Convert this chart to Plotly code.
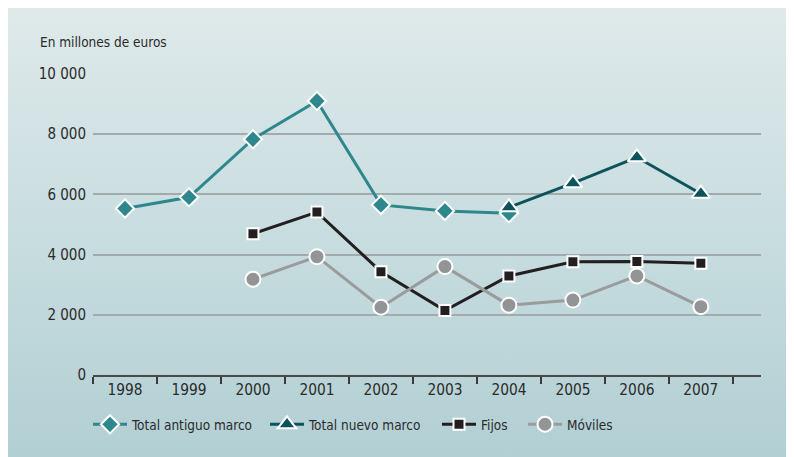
import base64
import plotly.graph_objects as go

years = ["1998", "1999", "2000", "2001", "2002", "2003", "2004", "2005", "2006", "2007"]
antiguo = [5530, 5900, 7830, 9100, 5650, 5450, 5370, None, None, None]
nuevo = [None, None, None, None, None, None, 5570, 6370, 7230, 6020]
fijos = [None, None, 4690, 5410, 3430, 2140, 3290, 3760, 3770, 3710]
moviles = [None, None, 3180, 3930, 2250, 3600, 2320, 2490, 3290, 2270]
yticks = [0, 2000, 4000, 6000, 8000, 10000]
ytick_labels = ["0", "2 000", "4 000", "6 000", "8 000", "10 000"]

FONT = "DejaVu Sans Condensed, sans-serif"
TXT = "#2b2b2b"

svg = ('<svg xmlns="http://www.w3.org/2000/svg" width="100" height="100" preserveAspectRatio="none">'
       '<defs><linearGradient id="g" x1="0" y1="0" x2="0" y2="1">'
       '<stop offset="0" stop-color="#dfe9ea"/><stop offset="0.5" stop-color="#c8dde0"/>'
       '<stop offset="1" stop-color="#b2cfd3"/></linearGradient></defs>'
       '<rect width="100" height="100" fill="url(#g)"/></svg>')
bg = "data:image/svg+xml;base64," + base64.b64encode(svg.encode()).decode()

# page has an 8px body margin; figure coordinates below are page - 8
OX, OY = 8, 8
W, H = 794 - OX, 457 - OY
L, R, T, B = 93 - OX, 761 - OX, 73 - OY, 375 - OY
pw, ph = R - L, B - T

fig = go.Figure()

def add(y, name, color, symbol, size, legend, lc=None):
    fig.add_trace(go.Scatter(
        x=years, y=y, name=name, mode="lines+markers",
        line=dict(color=lc or color, width=3),
        marker=dict(symbol=symbol, size=size, color=color,
                    line=dict(color="white", width=2)),
        connectgaps=False, legend=legend,
    ))

add(antiguo, "Total antiguo marco", "#2e878c", "diamond", 14, "legend")
add(nuevo, "Total nuevo marco", "#0d545a", "triangle-up", 16, "legend2")
add(fijos, "Fijos", "#231f20", "square", 11, "legend3")
add(moviles, "Móviles", "#939496", "circle", 15, "legend4", lc="#9a9b9d")

def leg(page_x):
    return dict(orientation="h", x=(page_x - OX - L) / pw, xanchor="left",
                y=(B - (409 - OY)) / ph, yanchor="top", bgcolor="rgba(0,0,0,0)",
                font=dict(size=13.5, color=TXT), itemwidth=34)

fig.update_layout(
    width=W, height=H,
    margin=dict(l=L, r=W - R, t=T, b=H - B),
    paper_bgcolor="white", plot_bgcolor="rgba(0,0,0,0)",
    font=dict(family=FONT, color=TXT),
    showlegend=True,
    legend=leg(88), legend2=leg(265), legend3=leg(437), legend4=leg(523),
    images=[dict(source=bg, xref="paper", yref="paper",
                 x=-L / pw, y=1 + T / ph,
                 sizex=W / pw, sizey=H / ph,
                 sizing="stretch", layer="below", xanchor="left", yanchor="top")],
    annotations=[dict(text="En millones de euros", xref="paper", yref="paper",
                      x=(38 - OX - L) / pw, y=(B - (42 - OY)) / ph, xanchor="left", yanchor="middle",
                      showarrow=False, font=dict(size=13.5, color=TXT))],
)

fig.update_xaxes(
    type="category", categoryorder="array", categoryarray=years,
    range=[-0.5, 9.94], tickson="boundaries", ticks="outside", ticklen=7,
    tickcolor="#3a3a3a", tickwidth=1.5, showline=True, linecolor="#4a4a4a",
    linewidth=2, showgrid=False, zeroline=False,
    tickfont=dict(size=15.3, color=TXT),
)
fig.update_yaxes(
    range=[0, 10030], tickvals=yticks, ticktext=ytick_labels,
    showgrid=True, gridcolor="#a2aaac", gridwidth=1.5, zeroline=False,
    showline=False, ticks="", tickfont=dict(size=15, color=TXT),
    ticklabelstandoff=6,
)

fig.write_html("out.html")
